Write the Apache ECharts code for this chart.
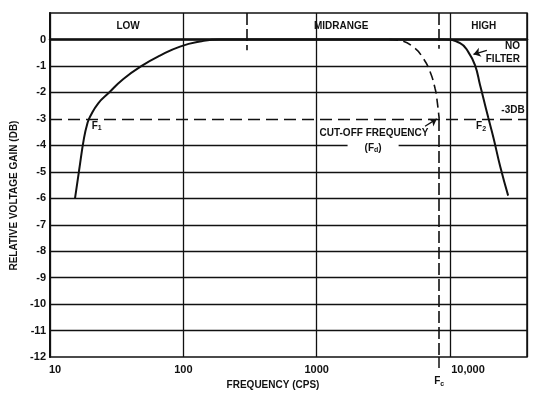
<!DOCTYPE html>
<html><head><meta charset="utf-8">
<script src="https://cdn.jsdelivr.net/npm/echarts@6/dist/echarts.min.js"></script>
<style>html,body{margin:0;padding:0;background:#fff}#c{width:536px;height:395px}</style>
</head><body><div id="c"></div>
<script>
// ---- data ----
const yTicks = [0, -1, -2, -3, -4, -5, -6, -7, -8, -9, -10, -11];
const xTickLabels = {10: '10', 100: '100', 1000: '1000', 10000: '10,000'};
const FC = 8300;          // cut-off frequency (Fc)
const BAND_EDGE = 300;    // low / midrange boundary
const CUTOFF_DB = -3;

const noFilterFreq = [15.4, 16.5, 18.0, 19.1, 20.0, 23.0, 27.4, 35.5, 48.7, 66.8, 94.4, 133, 188, 400, 1000, 4000, 9000, 11900, 13700, 15400, 16800, 17800, 19400, 21200, 23800, 27300];
const noFilterGain = [-6.0, -4.97, -3.72, -3.16, -2.91, -2.41, -2.03, -1.49, -1.0, -0.61, -0.27, -0.08, 0, 0, 0, 0, 0, -0.14, -0.47, -0.97, -1.72, -2.22, -2.97, -3.72, -4.8, -5.9];

const filterFreq = [3500, 4230, 5320, 6310, 7090, 7730, 7960, 8300];
const filterGain = [0, -0.04, -0.29, -0.72, -1.22, -1.85, -2.22, -3.0];

// annotations (text, anchor freq, anchor gain)
const annTexts = ['LOW', 'MIDRANGE', 'HIGH', 'NO\nFILTER', '-3DB', 'F{s|2}', 'F{s|1}', 'CUT-OFF FREQUENCY', '(F{s|d})'];
const annFreq = [38.5, 1525, 17900, 33500, 29700, 17100, 22.4, 2690, 2650];
const annGain = [0.5, 0.5, 0.5, -0.5, -2.66, -3.28, -3.26, -3.56, -4.1];

const FONT = "'Liberation Sans', Arial, sans-serif";
const BLACK = '#111';

const chart = echarts.init(document.getElementById('c'), null, {renderer: 'canvas'});

const gridLines = yTicks.map(v => ({
  yAxis: v,
  lineStyle: {type: v === CUTOFF_DB ? [12, 6] : 'solid', width: 1.3, color: BLACK}
}));

const annData = annTexts.map((t, i) => {
  const item = {
    coord: [annFreq[i], annGain[i]],
    label: {formatter: t}
  };
  if (i === 3) item.label.align = 'right';
  if (i === 8) { item.label.backgroundColor = '#fff'; item.label.padding = [2, 17, 2, 17]; }
  return item;
});

const option = {
  animation: false,
  backgroundColor: '#fff',
  grid: {left: 50, right: 9, top: 13, bottom: 34, show: true, borderColor: BLACK, borderWidth: 1.5, backgroundColor: 'transparent'},
  xAxis: [{
    type: 'log', logBase: 10, min: 10, max: 37800,
    name: 'FREQUENCY (CPS)', nameLocation: 'middle', nameGap: 16,
    nameTextStyle: {fontFamily: FONT, fontWeight: 'bold', fontSize: 10, color: BLACK, padding: [0, 31, 0, 0]},
    axisLine: {show: true, lineStyle: {color: BLACK, width: 2.5}},
    axisTick: {show: false},
    minorTick: {show: false},
    splitLine: {show: true, lineStyle: {color: BLACK, width: 1.3}},
    axisLabel: {
      margin: 7, showMinLabel: true, showMaxLabel: false,
      fontFamily: FONT, fontWeight: 'bold', fontSize: 11, color: BLACK,
      formatter: v => {
        const k = Math.round(v);
        if (k === 10) return '{a|10}';
        if (k === 10000) return '{b|10,000}';
        return xTickLabels[k] || '';
      },
      rich: {
        a: {fontFamily: FONT, fontWeight: 'bold', fontSize: 11, color: BLACK, padding: [0, 0, 0, 10]},
        b: {fontFamily: FONT, fontWeight: 'bold', fontSize: 11, color: BLACK, padding: [0, 0, 0, 36]}
      }
    }
  }, {
    type: 'log', logBase: 10, min: 10, max: 37800, position: 'bottom',
    axisLine: {show: false},
    splitLine: {show: false},
    minorTick: {show: false},
    axisTick: {show: true, customValues: [FC], length: 11, lineStyle: {color: BLACK, width: 1.5}},
    axisLabel: {
      show: true, customValues: [FC], margin: 18,
      formatter: () => 'F{s|c}',
      fontFamily: FONT, fontWeight: 'bold', fontSize: 10, color: BLACK,
      rich: {s: {fontFamily: FONT, fontWeight: 'bold', fontSize: 7, color: BLACK, padding: [5, 0, 0, 0]}}
    }
  }],
  yAxis: {
    type: 'value', min: -12, max: 1, interval: 1,
    name: 'RELATIVE VOLTAGE GAIN (DB)', nameLocation: 'middle', nameGap: 21,
    nameTextStyle: {fontFamily: FONT, fontWeight: 'bold', fontSize: 10, color: BLACK, padding: [0, 21, 0, 0]},
    axisLine: {show: true, lineStyle: {color: BLACK, width: 2}},
    axisTick: {show: false},
    splitLine: {show: false},
    axisLabel: {
      margin: 4, fontFamily: FONT, fontWeight: 'bold', fontSize: 11, color: BLACK,
      formatter: v => (v === 1 ? '' : String(v))
    }
  },
  series: [{
    name: 'grid',
    type: 'line', data: [], z: 1, silent: true,
    markLine: {
      silent: true, symbol: 'none', label: {show: false}, animation: false,
      data: gridLines
    }
  }, {
    name: 'No filter',
    type: 'line', z: 3,
    data: noFilterFreq.map((f, i) => [f, noFilterGain[i]]),
    smooth: 0.5, showSymbol: false,
    lineStyle: {color: BLACK, width: 2}
  }, {
    name: 'Filter',
    type: 'line', z: 3,
    data: filterFreq.map((f, i) => [f, filterGain[i]]),
    smooth: 0.5, showSymbol: false,
    lineStyle: {color: BLACK, width: 1.6, type: [9, 5]},
    markLine: {
      silent: true, symbol: 'none', label: {show: false}, animation: false,
      lineStyle: {color: BLACK, width: 1.6, type: [12, 4]},
      data: [
        [{coord: [FC, 1]}, {coord: [FC, -0.35]}],
        [{coord: [FC, CUTOFF_DB]}, {coord: [FC, -12]}],
        [{coord: [BAND_EDGE, 1]}, {coord: [BAND_EDGE, -0.41]}],
        [{coord: [18900, -0.41], symbol: 'none', lineStyle: {type: 'solid', width: 1.3}}, {coord: [15000, -0.56], symbol: 'arrow', symbolSize: 7}],
        [{coord: [6500, -3.28], symbol: 'none', lineStyle: {type: 'solid', width: 1.3}}, {coord: [7960, -3.0], symbol: 'arrow', symbolSize: 7}]
      ]
    }
  }, {
    name: 'labels',
    type: 'line', data: [], z: 5, silent: true,
    markPoint: {
      silent: true, symbol: 'rect', symbolSize: 1, animation: false,
      itemStyle: {color: 'rgba(0,0,0,0)'},
      label: {
        show: true, position: 'inside', align: 'center', verticalAlign: 'middle',
        fontFamily: FONT, fontWeight: 'bold', fontSize: 10, color: BLACK, lineHeight: 13,
        rich: {s: {fontFamily: FONT, fontWeight: 'bold', fontSize: 7, color: BLACK, padding: [5, 0, 0, 0]}}
      },
      data: annData
    }
  }]
};
chart.setOption(option);
</script>
</body></html>
